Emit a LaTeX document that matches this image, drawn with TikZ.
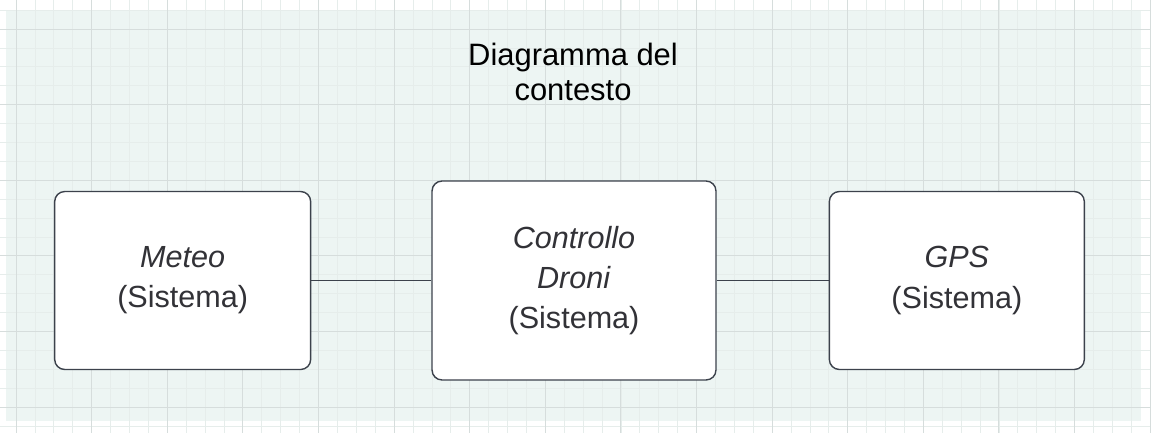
\documentclass[tikz,border=0pt]{standalone}
\usepackage{fontspec}
\setmainfont{Liberation Sans}
\usepackage{tikz}
\usetikzlibrary{positioning}
\definecolor{panelgreen}{RGB}{237,245,243}
\definecolor{minorgrid}{RGB}{230,237,235}
\definecolor{majorgrid}{RGB}{214,221,220}
\definecolor{boxline}{RGB}{60,66,76}
\definecolor{boxtext}{RGB}{50,50,55}
\tikzset{sys node/.style={rectangle,rounded corners=0.2cm,draw=boxline,fill=white,line width=0.8pt,text=boxtext,align=center,font=\fontsize{17.4}{22.8}\selectfont},}

\begin{document}
\begin{tikzpicture}[x=0.02cm, y=-0.02cm, node distance=2.4cm, semithick]
    \useasboundingbox (0,0) rectangle (1151,433);
    \fill[white] (0,0) rectangle (1151,433);
    \fill[panelgreen] (6,11) rectangle (1141,421);
    % grid
    \foreach \i in {-1,...,60}
        \draw[minorgrid, line width=0.35pt] ({16+18.9*\i},0) -- ({16+18.9*\i},433);
    \foreach \j in {-1,...,21}
        \draw[minorgrid, line width=0.35pt] (0,{29+18.9*\j}) -- (1151,{29+18.9*\j});
    \foreach \i in {0,...,15}
        \draw[majorgrid, line width=0.4pt] ({16+75.6*\i},0) -- ({16+75.6*\i},433);
    \foreach \j in {0,...,5}
        \draw[majorgrid, line width=0.4pt] (0,{29+75.6*\j}) -- (1151,{29+75.6*\j});

    \node[align=center, font=\fontsize{17.6}{20}\selectfont] (title) at (573,72) {Diagramma del\\contesto};

    \node[sys node, minimum width=5.68cm, minimum height=3.98cm] (droni) at (574,280.5) {\textit{Controllo}\\\textit{Droni}\\(Sistema)};
    \node[sys node, minimum width=5.12cm, minimum height=3.56cm] (meteo) [left = 2.40cm of droni] {\textit{Meteo}\\(Sistema)};
    \node[sys node, minimum width=5.10cm, minimum height=3.56cm] (gps) [right = 2.24cm of droni] {\textit{GPS}\\(Sistema)};

    \path[draw, boxline, line width=0.8pt]
    (meteo.east) edge [out=0, in=180] (droni.west)
    (droni.east) edge [out=0, in=180] (gps.west);
\end{tikzpicture}
\end{document}
